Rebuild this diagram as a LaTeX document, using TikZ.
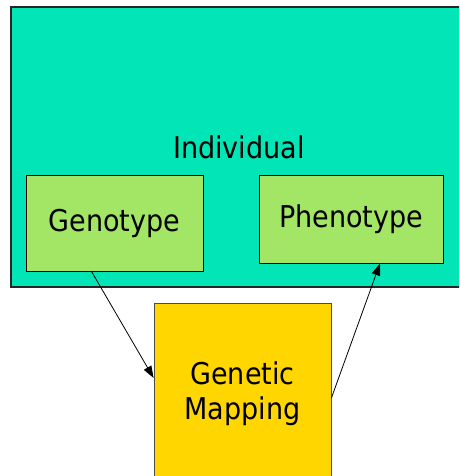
\documentclass[tikz,border=0pt]{standalone}
\usepackage{fontspec}
\setmainfont{DejaVu Sans Condensed}
\usepackage{xcolor}
\usepackage{tikz}
\usetikzlibrary{arrows.meta}
\definecolor{indivteal}{RGB}{2,230,183}
\definecolor{typegreen}{RGB}{163,230,102}
\definecolor{mapgold}{RGB}{255,214,0}
\tikzset{every picture/.style={line width=.8pt}}

\begin{document}
\begin{tikzpicture}[x=1pt,y=1pt,>={Triangle[length=12pt,width=8.5pt]},
 every node/.style={font=\fontsize{30}{35}\selectfont},
 typebox/.style={draw=black,fill=typegreen,inner sep=0pt}]
 \useasboundingbox (0,0) rectangle (459,476);
 \clip (0,0) rectangle (459,476);
 % The individual, with both parts of it inside.
 \node[draw=black!85,line width=1.4pt,fill=indivteal,minimum width=456pt,
  minimum height=280pt,inner sep=0pt] (indiv) at (239,329) {Individual};
 \node[typebox,minimum width=177pt,minimum height=96pt] (geno) at (114.5,253) {Genotype};
 \node[typebox,minimum width=184pt,minimum height=88pt] (pheno) at (351,257) {Phenotype};

 % The mapping between them, outside the individual.
 \node[draw=black!70,fill=mapgold,minimum width=177pt,minimum height=182pt,
  inner sep=0pt,align=center] (mapping) at (242.5,82) {Genetic\\Mapping};

 \draw[->] ([xshift=-23pt]geno.south) -- ([yshift=16pt]mapping.west);
 \draw[->] ([yshift=-4pt]mapping.east) -- ([xshift=29pt]pheno.south);
\end{tikzpicture}
\end{document}
